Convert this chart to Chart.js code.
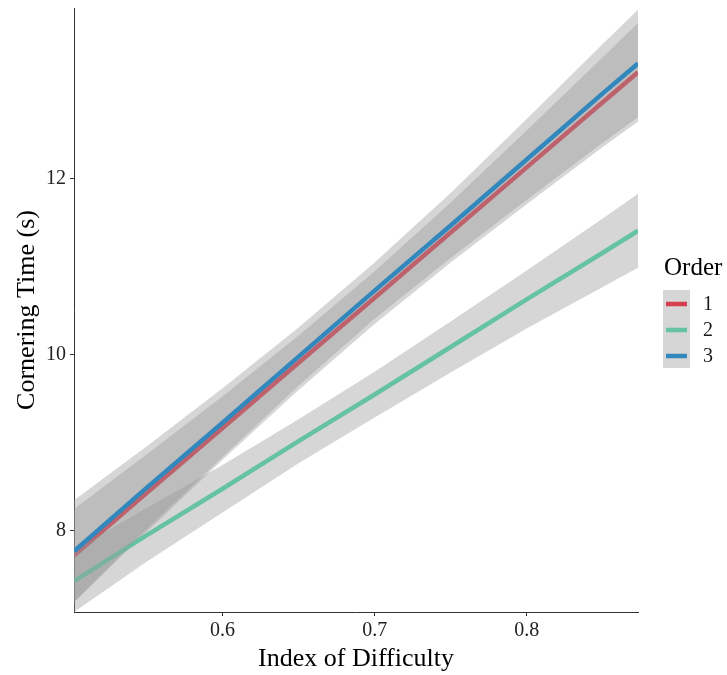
<!DOCTYPE html>
<html>
<head>
<meta charset="utf-8">
<title>Cornering Time vs Index of Difficulty</title>
<script src="https://cdn.jsdelivr.net/npm/chart.js@4.4.1/dist/chart.umd.min.js"></script>
<style>
  html, body { margin: 0; padding: 0; background: #fff; }
  canvas { display: block; }
</style>
</head>
<body>
<canvas id="chart" width="727" height="675"></canvas>
<script>
const xValues = [0.5023, 0.55, 0.60, 0.65, 0.70, 0.75, 0.80, 0.85, 0.8732];

// Order 1
const order1Fit   = [7.72, 8.43, 9.17, 9.91, 10.65, 11.39, 12.13, 12.87, 13.21];
const order1Upper = [8.25, 8.87, 9.53, 10.22, 10.95, 11.73, 12.55, 13.38, 13.77];
const order1Lower = [7.19, 7.99, 8.81, 9.60, 10.35, 11.05, 11.71, 12.36, 12.65];

// Order 2
const order2Fit   = [7.43, 7.95, 8.48, 9.02, 9.55, 10.09, 10.63, 11.16, 11.41];
const order2Upper = [7.78, 8.26, 8.75, 9.27, 9.81, 10.38, 10.96, 11.55, 11.83];
const order2Lower = [7.08, 7.65, 8.21, 8.77, 9.29, 9.80, 10.30, 10.77, 10.99];

// Order 3
const order3Fit   = [7.77, 8.49, 9.23, 9.98, 10.73, 11.47, 12.22, 12.97, 13.31];
const order3Upper = [8.35, 8.96, 9.62, 10.31, 11.05, 11.84, 12.68, 13.53, 13.92];
const order3Lower = [7.19, 8.02, 8.84, 9.65, 10.41, 11.10, 11.76, 12.41, 12.70];

const orderLabels = ["1", "2", "3"];
const orderColors = ["#D53E4F", "#66C2A5", "#3288BD"];
const xTicks = [0.6, 0.7, 0.8];
const yTicks = [8, 10, 12];

const bandFill = "rgba(153, 153, 153, 0.4)";
const serif = "'Liberation Serif', 'Times New Roman', serif";

const toPoints = (ys) => ys.map((y, i) => ({ x: xValues[i], y }));

const groups = [
  { fit: order1Fit, upper: order1Upper, lower: order1Lower },
  { fit: order2Fit, upper: order2Upper, lower: order2Lower },
  { fit: order3Fit, upper: order3Upper, lower: order3Lower },
];

// ggplot draws ribbon + line per group, so later groups sit on top
const datasets = [];
let drawOrder = 100;
groups.forEach((g, i) => {
  datasets.push({
    label: "band-upper-" + orderLabels[i],
    data: toPoints(g.upper),
    borderWidth: 0,
    pointRadius: 0,
    backgroundColor: bandFill,
    fill: "+1",
    order: drawOrder--,
  });
  datasets.push({
    label: "band-lower-" + orderLabels[i],
    data: toPoints(g.lower),
    borderWidth: 0,
    pointRadius: 0,
    fill: false,
    order: drawOrder--,
  });
  datasets.push({
    label: orderLabels[i],
    data: toPoints(g.fit),
    borderColor: orderColors[i],
    borderWidth: 4.5,
    pointRadius: 0,
    fill: false,
    order: drawOrder--,
  });
});

// Legend drawn in ggplot style on the right
const orderLegend = {
  id: "orderLegend",
  afterDraw(chart) {
    const ctx = chart.ctx;
    ctx.save();
    ctx.fillStyle = "#000";
    ctx.font = "25px " + serif;
    ctx.textBaseline = "alphabetic";
    ctx.textAlign = "left";
    ctx.fillText("Order", 664, 275);

    ctx.fillStyle = bandFill;
    ctx.fillRect(663, 290, 27, 78);

    const keyY = [304, 330, 356];
    orderLabels.forEach((lab, i) => {
      ctx.strokeStyle = orderColors[i];
      ctx.lineWidth = 4.5;
      ctx.beginPath();
      ctx.moveTo(666, keyY[i]);
      ctx.lineTo(687, keyY[i]);
      ctx.stroke();
      ctx.fillStyle = "#1a1a1a";
      ctx.font = "20px " + serif;
      ctx.textBaseline = "middle";
      ctx.fillText(lab, 703, keyY[i] + 1);
    });
    ctx.restore();
  },
};

new Chart(document.getElementById("chart").getContext("2d"), {
  type: "line",
  data: { datasets },
  options: {
    responsive: false,
    animation: false,
    events: [],
    layout: { padding: { left: 0, right: 89, top: 8, bottom: 0 } },
    plugins: {
      legend: { display: false },
      tooltip: { enabled: false },
      filler: { propagate: false },
    },
    scales: {
      x: {
        type: "linear",
        min: 0.5023,
        max: 0.8732,
        afterBuildTicks: (scale) => {
          scale.ticks = xTicks.map((v) => ({ value: v }));
        },
        afterFit: (scale) => {
          scale.height = 63;
          scale.paddingLeft = 0;
          scale.paddingRight = 0;
        },
        ticks: {
          color: "#222",
          padding: 3,
          font: { family: serif, size: 20 },
          callback: (v) => v.toFixed(1),
          maxRotation: 0,
        },
        grid: { drawOnChartArea: false, drawTicks: true, tickLength: 4, color: "#333" },
        border: { display: true, color: "#333", width: 1 },
        title: {
          display: true,
          text: "Index of Difficulty",
          color: "#000",
          font: { family: serif, size: 26 },
          padding: { top: 0, bottom: 0 },
        },
      },
      y: {
        type: "linear",
        min: 7.08,
        max: 13.94,
        afterBuildTicks: (scale) => {
          scale.ticks = yTicks.map((v) => ({ value: v }));
        },
        afterFit: (scale) => {
          scale.width = 74;
          scale.paddingTop = 0;
          scale.paddingBottom = 0;
        },
        ticks: {
          color: "#222",
          padding: 4,
          font: { family: serif, size: 20 },
        },
        grid: { drawOnChartArea: false, drawTicks: true, tickLength: 4, color: "#333" },
        border: { display: true, color: "#333", width: 1 },
        title: {
          display: true,
          text: "Cornering Time (s)",
          color: "#000",
          font: { family: serif, size: 26 },
          padding: { top: 12, bottom: 0 },
        },
      },
    },
  },
  plugins: [orderLegend],
});
</script>
</body>
</html>
